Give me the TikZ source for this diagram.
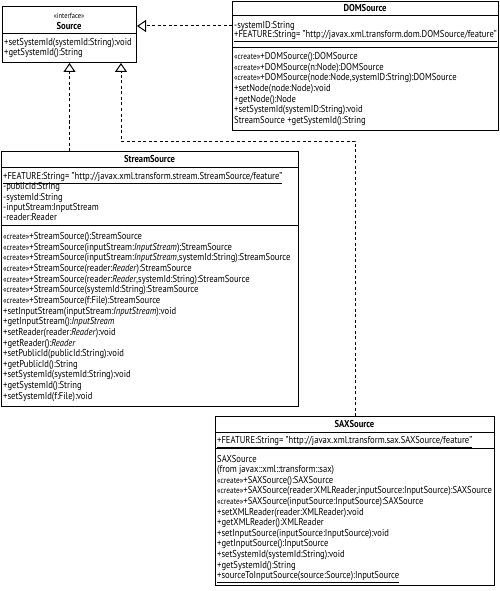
\documentclass[tikz,border=0pt]{standalone}
\usepackage{fontspec}
\setmainfont[FakeStretch=0.86]{PT Sans}
\usetikzlibrary{arrows.meta}
\newcommand{\cre}{{\fontsize{8.5}{9}\selectfont«create»}}
\begin{document}
\begin{tikzpicture}[x=1pt,y=-1pt,
  box/.style={draw, line width=1pt, inner sep=0pt, anchor=north west},
  sep/.style={line width=0.8pt},
  txt/.style={anchor=base west, inner sep=0pt, font=\fontsize{10}{11}\selectfont},
  ttl/.style={anchor=base, inner sep=0pt, font=\fontsize{10}{11}\selectfont\bfseries},
  real/.style={line width=1pt, dash pattern=on 3pt off 2.5pt, -{Triangle[open,fill=white,length=9pt,width=12pt]}}
]
\useasboundingbox (0,0) rectangle (500,591);
\fill[white] (0,0) rectangle (500,591);

% Source
\node[box, minimum width=134pt, minimum height=56pt] (src) at (2,6) {};
\node[anchor=base, inner sep=0pt, font=\fontsize{7.5}{8}\selectfont] (si) at (69,18.5) {«interface»};
\node[ttl] (sn) at (69,29.5) {Source};
\draw[sep] (2,33) -- (136,33);
\node[txt] (s1) at (4,45.5) {+setSystemId(systemId:String):void};
\node[txt] (s2) at (4,55.5) {+getSystemId():String};

% DOMSource
\node[box, minimum width=266pt, minimum height=129pt] (dom) at (232,1) {};
\node[ttl] (dt) at (365,11.5) {DOMSource};
\draw[sep] (232,15) -- (498,15);
\node[txt] (d1) at (234,28.5) {-systemID:String};
\node[txt] (d2) at (234,37.5) {\underline{+FEATURE:String= "http://javax.xml.transform.dom.DOMSource/feature"}};
\draw[sep] (232,47) -- (498,47);
\foreach \t [count=\i from 0] in {
  {\cre+DOMSource():DOMSource},
  {\cre+DOMSource(n:Node):DOMSource},
  {\cre+DOMSource(node:Node,systemID:String):DOMSource},
  {+setNode(node:Node):void},
  {+getNode():Node},
  {+setSystemId(systemID:String):void},
  {StreamSource +getSystemId():String}}
  \node[txt] (dm\i) at (234,{59.5+10.7*\i}) {\t};

% StreamSource
\node[box, minimum width=297pt, minimum height=255pt] (stream) at (1,151) {};
\node[ttl] (stt) at (149.5,162.5) {StreamSource};
\draw[sep] (1,167) -- (298,167);
\foreach \t [count=\i from 0] in {
  {\underline{+FEATURE:String= "http://javax.xml.transform.stream.StreamSource/feature"}},
  {-publicId:String},
  {-systemId:String},
  {-inputStream:InputStream},
  {-reader:Reader}}
  \node[txt] (sa\i) at (3,{179.5+10.25*\i}) {\t};
\draw[sep] (1,225) -- (298,225);
\foreach \t [count=\i from 0] in {
  {\cre+StreamSource():StreamSource},
  {\cre+StreamSource(inputStream:\textit{InputStream}):StreamSource},
  {\cre+StreamSource(inputStream:\textit{InputStream},systemId:String):StreamSource},
  {\cre+StreamSource(reader:\textit{Reader}):StreamSource},
  {\cre+StreamSource(reader:\textit{Reader},systemId:String):StreamSource},
  {\cre+StreamSource(systemId:String):StreamSource},
  {\cre+StreamSource(f:File):StreamSource},
  {+setInputStream(inputStream:\textit{InputStream}):void},
  {+getInputStream():\textit{InputStream}},
  {+setReader(reader:\textit{Reader}):void},
  {+getReader():\textit{Reader}},
  {+setPublicId(publicId:String):void},
  {+getPublicId():String},
  {+setSystemId(systemId:String):void},
  {+getSystemId():String},
  {+setSystemId(f:File):void}}
  \node[txt] (sm\i) at (3,{239.5+10.65*\i}) {\t};

% SAXSource
\node[box, minimum width=279pt, minimum height=169pt] (sax) at (215,416) {};
\node[ttl] (xt) at (354.5,427.5) {SAXSource};
\draw[sep] (215,432) -- (494,432);
\node[txt] (xa) at (217,443.5) {\underline{+FEATURE:String= "http://javax.xml.transform.sax.SAXSource/feature"}};
\draw[sep] (215,448) -- (494,448);
\foreach \t [count=\i from 0] in {
  {SAXSource},
  {(from javax::xml::transform::sax)},
  {\cre+SAXSource():SAXSource},
  {\cre+SAXSource(reader:XMLReader,inputSource:InputSource):SAXSource},
  {\cre+SAXSource(inputSource:InputSource):SAXSource},
  {+setXMLReader(reader:XMLReader):void},
  {+getXMLReader():XMLReader},
  {+setInputSource(inputSource:InputSource):void},
  {+getInputSource():InputSource},
  {+setSystemId(systemId:String):void},
  {+getSystemId():String},
  {\underline{+sourceToInputSource(source:Source):InputSource}}}
  \node[txt] (xm\i) at (217,{462+10.6*\i}) {\t};

% connectors
\coordinate (k) at (121,141);
\draw[real] ([yshift=-25pt]dom.north west) -- ([yshift=-20pt]src.north east);
\draw[real] (stream.north -| src.south) -- (src.south);
\draw[real] (sax.north) |- (k) -- (k |- src.south);
\end{tikzpicture}
\end{document}
